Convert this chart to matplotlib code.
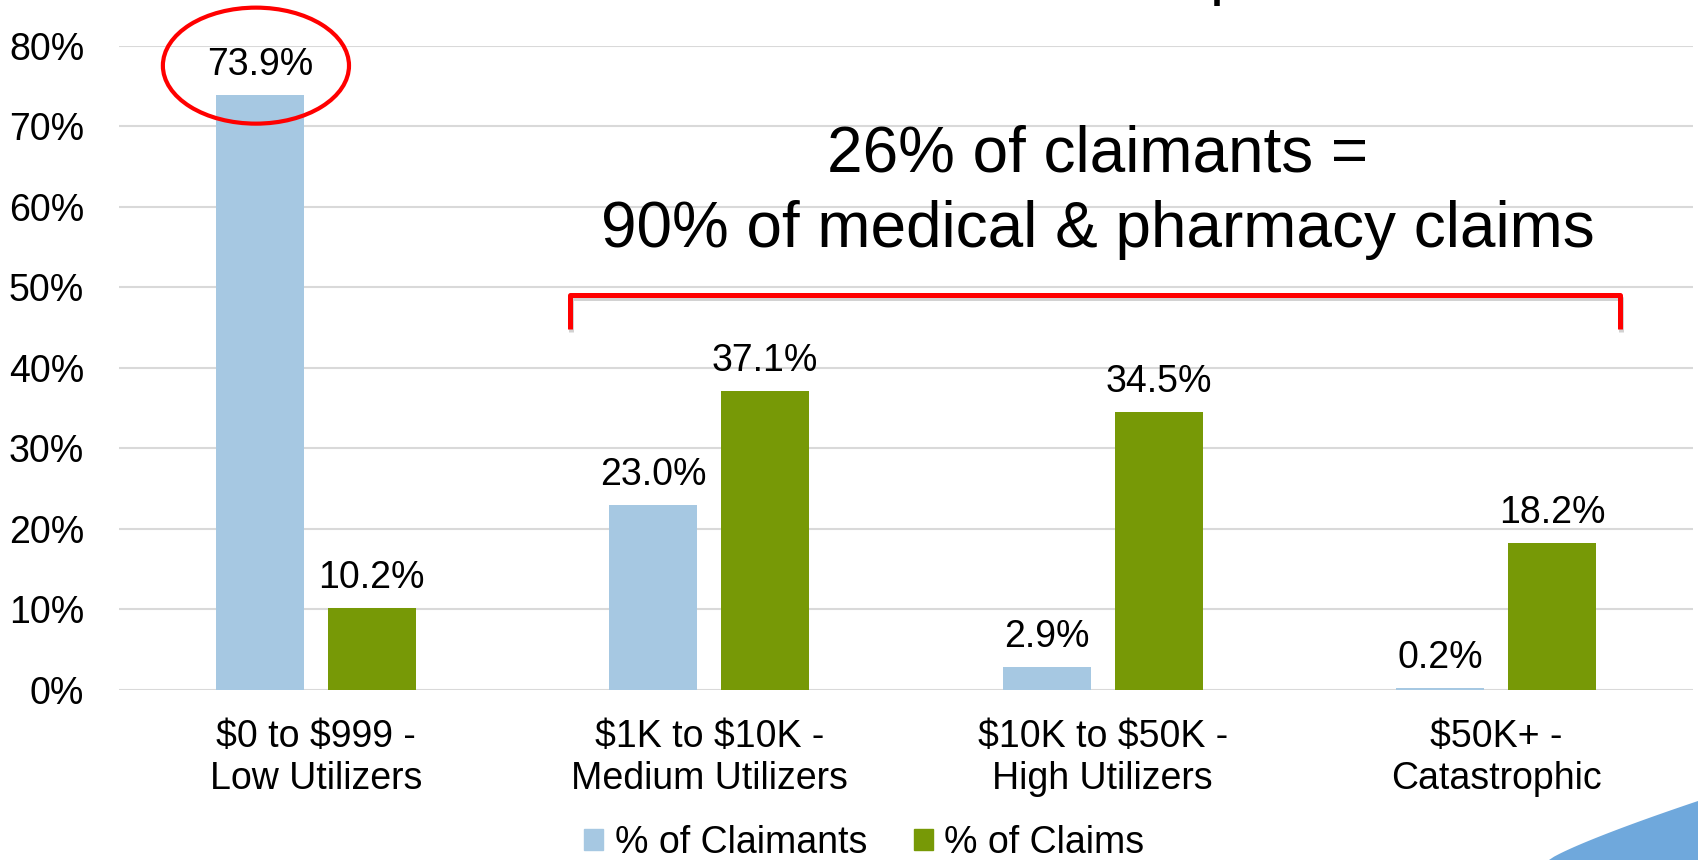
import matplotlib
matplotlib.use("Agg")
import matplotlib.pyplot as plt
import matplotlib.patheffects as pe
from matplotlib.patches import Ellipse, Polygon, Patch
import numpy as np

# data
categories = ["$0 to $999 -\nLow Utilizers", "$1K to $10K -\nMedium Utilizers",
              "$10K to $50K -\nHigh Utilizers", "$50K+ -\nCatastrophic"]
claimants = [73.9, 23.0, 2.9, 0.2]
claims = [10.2, 37.1, 34.5, 18.2]
series_names = ["% of Claimants", "% of Claims"]
yticks = [0, 10, 20, 30, 40, 50, 60, 70, 80]

blue = "#A6C8E2"
green = "#779906"
red = "#FF0000"

plt.rcParams['font.family'] = ['Liberation Sans', 'DejaVu Sans']
plt.rcParams['text.parse_math'] = False

fig = plt.figure(figsize=(16.98, 8.60), dpi=100)
ax = fig.add_axes([119/1698, 1 - 690/860, (1693-119)/1698, (690-45.5)/860])

x = np.arange(len(categories))
w = 0.2236
off = 0.1418
b1 = ax.bar(x - off, claimants, w, color=blue, zorder=3)
b2 = ax.bar(x + off, claims, w, color=green, zorder=3)

for bars, vals in ((b1, claimants), (b2, claims)):
    for r, v in zip(bars, vals):
        ax.annotate(f"{v:.1f}%", (r.get_x() + r.get_width()/2, v),
                    xytext=(0, 14.4), textcoords="offset points",
                    ha="center", va="baseline", fontsize=27)

ax.set_xlim(-0.5, 3.5)
ax.set_ylim(0, 80)
ax.set_yticks(yticks)
ax.set_yticklabels([f"{t}%" for t in yticks])
ax.set_xticks(x)
ax.set_xticklabels(categories, fontsize=27, linespacing=1.2)
ax.tick_params(axis="y", length=0, pad=25, labelsize=27)
ax.tick_params(axis="x", length=0, pad=21)
ax.grid(axis="y", color="#D9D9D9", lw=1.5, zorder=0)
for s in ax.spines.values():
    s.set_visible(False)

# red ellipse around the top value
ax.add_patch(Ellipse((-0.152, 77.5), 0.473, 14.4, fill=False, edgecolor=red,
                     lw=3, clip_on=False, zorder=5))

# bracket over the three high-cost groups
ax.plot([0.645, 0.645, 3.314, 3.314], [44.8, 49.0, 49.0, 44.8], color=red,
        lw=3.6, solid_joinstyle="round", solid_capstyle="butt", zorder=5,
        path_effects=[pe.SimpleLineShadow(offset=(1, -2), shadow_color="gray", alpha=0.35),
                      pe.Normal()])

fig.text(1097.5/1698, 1 - 171/860, "26% of claimants =", ha="center",
         va="baseline", fontsize=46)
fig.text(1097.5/1698, 1 - 246.7/860, "90% of medical & pharmacy claims",
         ha="center", va="baseline", fontsize=46)

# cut-off title descender at top edge
fig.text(1210/1698, 1 + 7/860, "p", ha="left", va="baseline", fontsize=46)

handles = [Patch(color=blue), Patch(color=green)]
fig.legend(handles, series_names, loc="center", bbox_to_anchor=(864.5/1698, 1 - 843/860),
           ncol=2, frameon=False, fontsize=27, handlelength=0.5, handleheight=0.5,
           handletextpad=0.31, columnspacing=1.25, borderaxespad=0, borderpad=0)

# decorative blue corner shape
t = np.linspace(0, 1, 30)
cx = 1549 + (1698 - 1549) * t
cy = 860 - 59 * t**0.85
pts = [(px/1698, 1 - py/860) for px, py in zip(cx, cy)] + [(1.0, 0.0)]
fig.patches.append(Polygon(pts, closed=True, transform=fig.transFigure,
                           facecolor="#6FA8DC", edgecolor="none"))

fig.savefig("out.png", dpi=100)
